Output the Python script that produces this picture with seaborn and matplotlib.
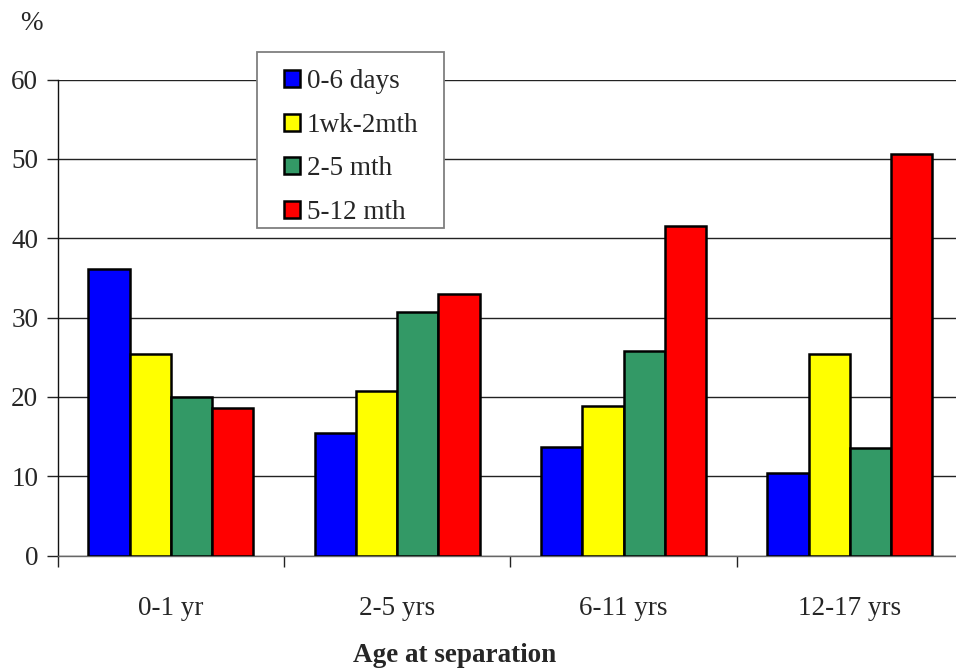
import matplotlib
matplotlib.use("Agg")
import matplotlib.pyplot as plt
from matplotlib.patches import Rectangle, Patch
import seaborn as sns
import pandas as pd

# Age at separation (x groups) and onset-age series
groups = ["0-1 yr", "2-5 yrs", "6-11 yrs", "12-17 yrs"]
series = ["0-6 days", "1wk-2mth", "2-5 mth", "5-12 mth"]
colors = ["#0000FF", "#FFFF00", "#339966", "#FF0000"]

vals_0_6_days = [36.1, 15.5, 13.7, 10.4]
vals_1wk_2mth = [25.4, 20.7, 18.9, 25.4]
vals_2_5_mth = [20.0, 30.7, 25.8, 13.6]
vals_5_12_mth = [18.6, 33.0, 41.6, 50.6]

yticks = [0, 10, 20, 30, 40, 50, 60]

rows = []
for name, vals in zip(series, [vals_0_6_days, vals_1wk_2mth, vals_2_5_mth, vals_5_12_mth]):
    for g, v in zip(groups, vals):
        rows.append({"group": g, "series": name, "value": v})
df = pd.DataFrame(rows)

sns.set_theme(style="white")
plt.rcParams["font.family"] = ["Liberation Serif", "DejaVu Serif"]
FS = 19.5

fig = plt.figure(figsize=(9.56, 6.69), dpi=100)
ax = fig.add_axes([57.7 / 956, 1 - 555.7 / 669, 905.3 / 956, 476.2 / 669])

sns.barplot(data=df, x="group", y="value", hue="series", order=groups,
            hue_order=series, palette=colors, width=0.73, gap=0,
            edgecolor="black", linewidth=1.8, saturation=1,
            legend=False, ax=ax, zorder=3)

ax.set_xlim(-0.5, 3.5)
ax.set_ylim(0, 60)
ax.set_yticks(yticks)
ax.set_yticklabels([str(t) for t in yticks], fontsize=FS)
ax.yaxis.grid(True, color="#222222", linewidth=1.0)
ax.set_axisbelow(True)

ax.set_xticks(range(len(groups)))
ax.set_xticklabels(groups, fontsize=FS)
ax.set_xticks([-0.5, 0.5, 1.5, 2.5, 3.5], minor=True)
ax.tick_params(axis="x", which="major", length=0, pad=29)
ax.tick_params(axis="x", which="minor", length=8, width=1, color="#222222",
               direction="out", bottom=True)
ax.tick_params(axis="y", length=8, width=1, color="#222222", direction="out",
               left=True, pad=6)
ax.set_xlabel("")
ax.set_ylabel("")

for side in ["top", "right"]:
    ax.spines[side].set_visible(False)
ax.spines["left"].set_color("#111111")
ax.spines["left"].set_linewidth(1.0)
ax.spines["bottom"].set_color("#666666")
ax.spines["bottom"].set_linewidth(1.0)

fig.text(31 / 956, 1 - 23 / 669, "%", fontsize=FS, ha="center", va="center")
fig.text(455 / 956, 1 - 655 / 669, "Age at separation", fontsize=FS,
         fontweight="bold", ha="center", va="center")

# Legend box with white background over the gridlines
box = Rectangle((256.7 / 956, 1 - 227.7 / 669), (444 - 256.7) / 956,
                (227.7 - 51.7) / 669, transform=fig.transFigure,
                facecolor="white", edgecolor="#7f7f7f", linewidth=1.3,
                zorder=5)
fig.patches.append(box)

handles = [Patch(facecolor=c, edgecolor="black", linewidth=1.8) for c in colors]
leg = fig.legend(handles, series, loc="upper left",
                 bbox_to_anchor=(284 / 956, 1 - 69 / 669), frameon=False,
                 fontsize=FS, handlelength=0.6, handleheight=0.6,
                 handletextpad=0.25, labelspacing=0.69, borderpad=0,
                 borderaxespad=0)
leg.set_zorder(6)

fig.savefig("out.png", dpi=100)
